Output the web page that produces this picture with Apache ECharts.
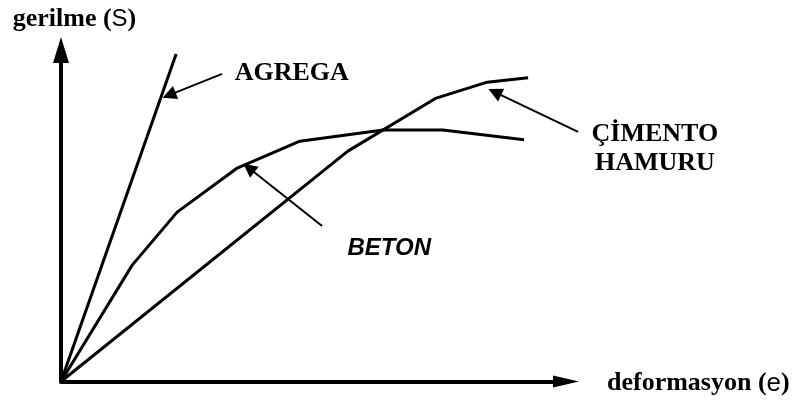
<!DOCTYPE html>
<html>
<head>
<meta charset="utf-8">
<script src="https://cdn.jsdelivr.net/npm/echarts@6/dist/echarts.min.js"></script>
<style>
  html, body { margin: 0; padding: 0; background: #fff; }
  #chart { width: 792px; height: 403px; }
</style>
</head>
<body>
<div id="chart"></div>
<script>
// curve points [deformasyon, gerilme] (0..100 scale)
const agrega = [[0, 0], [22.8, 98.8]];
const cimentoHamuru = [[0, 0], [56.8, 69.5], [74.3, 85.5], [84.4, 90.3], [92.5, 91.6]];
const beton = [[0, 0], [14.1, 35.1], [23.0, 51.1], [34.9, 64.4], [47.3, 72.5], [63.8, 75.9], [75.6, 75.9], [91.7, 72.9]];

// annotation labels and their pointer arrows (tail -> tip)
const labelNames = ['AGREGA', 'ÇİMENTO\nHAMURU', 'BETON'];
const labelPos = [[45.7, 93.1], [117.6, 70.3], [65.0, 40.3]];
const pointers = [
  [[31.9, 92.8], [21.4, 86.4]],
  [[102.4, 75.3], [85.9, 87.3]],
  [[51.7, 46.9], [37.2, 64.4]]
];

const serif = "'Liberation Serif', 'Times New Roman', serif";
const sans = "'Liberation Sans', Arial, sans-serif";

const chart = echarts.init(document.getElementById('chart'), null, { renderer: 'canvas' });

const labelStyles = [
  { fontFamily: serif, fontWeight: 'bold', fontSize: 26 },
  { fontFamily: serif, fontWeight: 'bold', fontSize: 26, lineHeight: 29, align: 'center' },
  { fontFamily: sans, fontWeight: 'bold', fontStyle: 'italic', fontSize: 24 }
];

const curve = (data) => ({
  type: 'line',
  data: data,
  symbol: 'none',
  clip: false,
  lineStyle: { color: '#000', width: 3 },
  itemStyle: { color: '#000' }
});

const axisCommon = {
  type: 'value',
  min: 0,
  max: 100,
  splitLine: { show: false },
  axisTick: { show: false },
  axisLabel: { show: false },
  nameMoveOverlap: false
};

chart.setOption({
  animation: false,
  backgroundColor: '#fff',
  grid: { left: 61, right: 226, top: 50, bottom: 21.5, outerBoundsMode: 'none' },
  xAxis: Object.assign({}, axisCommon, {
    name: 'deformasyon ({g|e})',
    nameLocation: 'end',
    nameGap: 41,
    nameTextStyle: {
      fontFamily: serif, fontWeight: 'bold', fontSize: 26, color: '#000',
      padding: [4, 0, 0, 0],
      rich: { g: { fontFamily: sans, fontWeight: 'normal', fontSize: 26, color: '#000' } }
    },
    axisLine: { lineStyle: { color: '#000', width: 4 }, symbol: ['none', 'triangle'], symbolSize: [12, 26] }
  }),
  yAxis: Object.assign({}, axisCommon, {
    name: 'gerilme ({g|S})',
    nameLocation: 'end',
    nameGap: 18,
    nameTextStyle: {
      fontFamily: serif, fontWeight: 'bold', fontSize: 26, color: '#000',
      padding: [0, 0, 0, 27],
      rich: { g: { fontFamily: sans, fontWeight: 'normal', fontSize: 24, color: '#000' } }
    },
    axisLine: { lineStyle: { color: '#000', width: 4 }, symbol: ['none', 'triangle'], symbolSize: [16, 26] }
  }),
  series: [
    curve(agrega),
    curve(cimentoHamuru),
    curve(beton),
    {
      type: 'lines',
      coordinateSystem: 'cartesian2d',
      clip: false,
      symbol: ['none', 'triangle'],
      symbolSize: [11, 14],
      lineStyle: { color: '#000', width: 2, opacity: 1 },
      data: pointers.map(p => ({ coords: p }))
    },
    {
      type: 'scatter',
      clip: false,
      symbol: 'circle',
      symbolSize: 1,
      itemStyle: { color: '#fff', opacity: 1 },
      data: labelNames.map((n, i) => ({
        name: n,
        value: labelPos[i],
        label: Object.assign({
          show: true, position: 'inside', formatter: '{b}', color: '#000',
          opacity: 1, textBorderWidth: 0
        }, labelStyles[i])
      }))
    }
  ]
});
</script>
</body>
</html>
